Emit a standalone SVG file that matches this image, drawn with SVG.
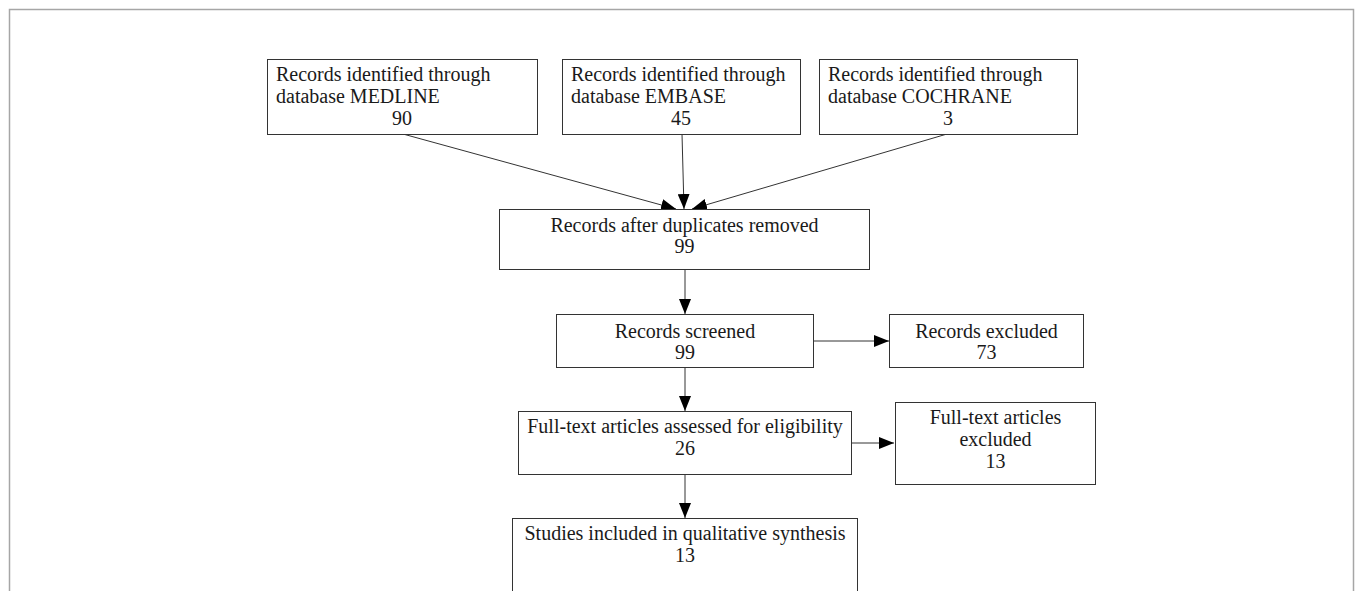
<svg xmlns="http://www.w3.org/2000/svg" width="1355" height="591" viewBox="0 0 1355 591">
<style>
.box{fill:#fff;stroke:#333;stroke-width:1}
.t{font-family:"Liberation Serif","Times New Roman",serif;font-size:20px;fill:#1a1a1a}
.c{text-anchor:middle}
.edge{stroke:#333;stroke-width:1;fill:none}
</style>
<defs>
<marker id="ah" markerUnits="userSpaceOnUse" markerWidth="16" markerHeight="12" refX="15" refY="6" orient="auto">
<path d="M0,0 L15,6 L0,12 Z" fill="#000"/>
</marker>
</defs>
<rect x="0" y="0" width="1355" height="591" fill="#fff"/>
<rect x="9.5" y="9.5" width="1344" height="600" fill="none" stroke="#a6a6a6" stroke-width="1.5"/>
<g id="connectors">
<line class="edge" x1="403" y1="134" x2="676" y2="209" marker-end="url(#ah)"/>
<line class="edge" x1="682" y1="134" x2="684" y2="209" marker-end="url(#ah)"/>
<line class="edge" x1="947" y1="134" x2="692" y2="209" marker-end="url(#ah)"/>
<line class="edge" x1="685" y1="269" x2="685" y2="314" marker-end="url(#ah)"/>
<line class="edge" x1="685" y1="367" x2="685" y2="411" marker-end="url(#ah)"/>
<line class="edge" x1="685" y1="474" x2="685" y2="518" marker-end="url(#ah)"/>
<line class="edge" x1="813" y1="341" x2="889" y2="341" marker-end="url(#ah)"/>
<line class="edge" x1="851" y1="443" x2="894" y2="443" marker-end="url(#ah)"/>
</g>
<g id="medline">
<rect class="box" x="267.5" y="59.5" width="270" height="75"/>
<text class="t" x="276" y="81">Records identified through</text>
<text class="t" x="276" y="103">database MEDLINE</text>
<text class="t c" x="402" y="125">90</text>
</g>
<g id="embase">
<rect class="box" x="562.5" y="59.5" width="238" height="75"/>
<text class="t" x="571" y="81">Records identified through</text>
<text class="t" x="571" y="103">database EMBASE</text>
<text class="t c" x="681" y="125">45</text>
</g>
<g id="cochrane">
<rect class="box" x="819.5" y="59.5" width="258" height="75"/>
<text class="t" x="828" y="81">Records identified through</text>
<text class="t" x="828" y="103">database COCHRANE</text>
<text class="t c" x="948" y="125">3</text>
</g>
<g id="duplicates">
<rect class="box" x="499.5" y="209.5" width="370" height="60"/>
<text class="t c" x="684.5" y="232">Records after duplicates removed</text>
<text class="t c" x="684.5" y="253">99</text>
</g>
<g id="screened">
<rect class="box" x="556.5" y="314.5" width="257" height="53"/>
<text class="t c" x="685" y="338">Records screened</text>
<text class="t c" x="685" y="359">99</text>
</g>
<g id="excluded">
<rect class="box" x="889.5" y="314.5" width="194" height="53"/>
<text class="t c" x="986.5" y="338">Records excluded</text>
<text class="t c" x="986.5" y="359">73</text>
</g>
<g id="assessed">
<rect class="box" x="518.5" y="411.5" width="333" height="63"/>
<text class="t c" x="685" y="433">Full-text articles assessed for eligibility</text>
<text class="t c" x="685" y="455">26</text>
</g>
<g id="ftexcluded">
<rect class="box" x="895.5" y="402.5" width="200" height="82"/>
<text class="t c" x="995.5" y="424">Full-text articles</text>
<text class="t c" x="995.5" y="446">excluded</text>
<text class="t c" x="995.5" y="468">13</text>
</g>
<g id="included">
<rect class="box" x="512.5" y="518.5" width="345" height="100"/>
<text class="t c" x="685" y="540">Studies included in qualitative synthesis</text>
<text class="t c" x="685" y="562">13</text>
</g>
</svg>
